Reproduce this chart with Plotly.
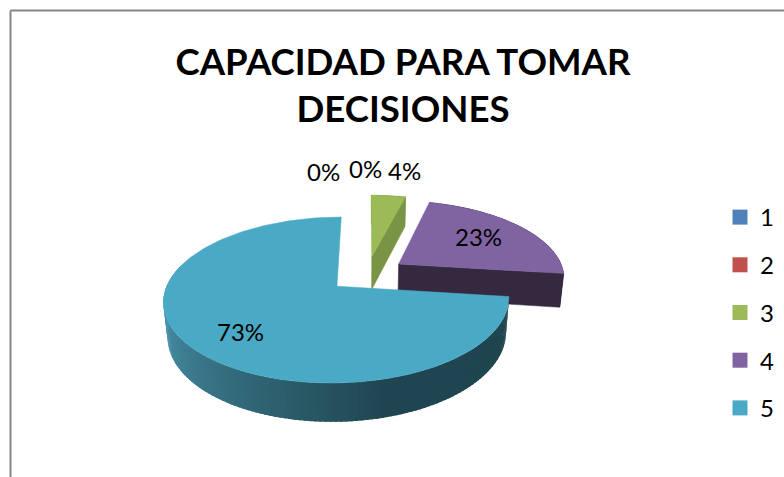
import math
import plotly.graph_objects as go

title_lines = ["CAPACIDAD PARA TOMAR", "DECISIONES"]
categories = ["1", "2", "3", "4", "5"]
percent_values = [0, 0, 4, 23, 73]
top_colors = ["#4F81BD", "#C0504D", "#9BBB59", "#8064A2", "#4AA9C4"]
side_colors = ["#3A5F8C", "#8E3B39", "#7A9445", "#35293F", "#1F4650"]

# projection of the tilted pie onto the pixel-like axes
CX, CY = 367.0, 274.0
BX, AY, HZ = 166.0, 76.7, 34.5
P, Q = 0.162, 0.02
PULL = 0.235


def project(gx, gd, z=0.0):
    f = 1.0 / (1.0 + P * gd + Q * z)
    return CX + BX * gx * f, CY - AY * gd * f + HZ * z * f


def polar(a, off, r=1.0):
    return off[0] + r * math.sin(a), off[1] + r * math.cos(a)


def poly(points, color, width=0.5):
    xs = [p[0] for p in points] + [points[0][0]]
    ys = [p[1] for p in points] + [points[0][1]]
    return go.Scatter(x=xs, y=ys, mode="lines", fill="toself", fillcolor=color,
                      line=dict(color=color, width=width), hoverinfo="skip",
                      showlegend=False)


def mix(c1, c2, t):
    a = [int(c1[i:i + 2], 16) for i in (1, 3, 5)]
    b = [int(c2[i:i + 2], 16) for i in (1, 3, 5)]
    return "#%02x%02x%02x" % tuple(round(x + (y - x) * t) for x, y in zip(a, b))


fig = go.Figure()
total = sum(percent_values)
angle = 0.0
slices = []
for cat, v, ct, cs in zip(categories, percent_values, top_colors, side_colors):
    a0 = angle
    a1 = angle + 2 * math.pi * v / total
    angle = a1
    if v:
        mid = (a0 + a1) / 2
        off = (PULL * math.sin(mid), PULL * math.cos(mid))
        slices.append((cat, a0, a1, off, ct, cs))

for cat, a0, a1, off, ct, cs in slices:
    n = max(6, int(math.degrees(a1 - a0) / 1.5))
    angs = [a0 + (a1 - a0) * i / n for i in range(n + 1)]
    is_main = (a1 - a0) > math.pi
    # outer wall
    for i in range(n):
        u, w = angs[i], angs[i + 1]
        deg = math.degrees((u + w) / 2)
        if is_main and deg > 285:
            continue
        if is_main:
            # lit from the left: light at the left rim, dark towards the right
            t = min(1.0, max(0.0, (262 - deg) / (262 - 165)))
            color = mix("#4A95AE", cs, t)
        else:
            color = cs
        w2 = min(angs[-1], w + math.radians(1.0))
        pu, pw = polar(u, off), polar(w2, off)
        fig.add_trace(poly([project(*pu, 0), project(*pw, 0),
                            project(*pw, 1), project(*pu, 1)], color, width=0))
    # cut face at the end that faces the viewer
    if not is_main:
        rim = polar(a1, off)
        fig.add_trace(poly([project(*off, 0), project(*rim, 0),
                            project(*rim, 1), project(*off, 1)], cs))
    # top face
    arc = [project(*polar(a, off), 0) for a in angs]
    fig.add_trace(poly([project(*off, 0)] + arc, ct))

# legend entries
for cat, col in zip(categories, top_colors):
    fig.add_trace(go.Scatter(x=[None], y=[None], mode="markers", name=cat,
                             legendgroup=cat,
                             marker=dict(symbol="square", size=15, color=col)))

label_x = [323, 365, 404, 478, 240]
label_y = [171, 168, 170, 236, 331]
for v, lx, ly in zip(percent_values, label_x, label_y):
    fig.add_annotation(x=lx, y=ly, text=f"{v}%", showarrow=False,
                       font=dict(family="Lato", size=24, color="#000000"))

fig.update_layout(
    width=784, height=477, margin=dict(l=0, r=0, t=0, b=0),
    paper_bgcolor="white", plot_bgcolor="white",
    title=dict(text="<br>".join(title_lines), x=403 / 784, xanchor="center",
               y=1 - 74.5 / 477, yanchor="top",
               font=dict(family="Lato", size=36.6, color="#000000", weight="bold")),
    xaxis=dict(range=[0, 784], visible=False, fixedrange=True),
    yaxis=dict(range=[477, 0], visible=False, fixedrange=True),
    legend=dict(x=720 / 784, xanchor="left", y=1 - 195 / 477, yanchor="top",
                tracegroupgap=13.5, bgcolor="rgba(0,0,0,0)",
                font=dict(family="Lato", size=24, color="#000000")),
    shapes=[
        dict(type="line", xref="paper", yref="paper", x0=10.5 / 784, x1=1,
             y0=1 - 10.5 / 477, y1=1 - 10.5 / 477, line=dict(color="#868686", width=2)),
        dict(type="line", xref="paper", yref="paper", x0=10.5 / 784, x1=10.5 / 784,
             y0=1 - 10.5 / 477, y1=0, line=dict(color="#868686", width=2)),
    ],
)
fig.write_html("out.html", post_script="document.body.style.margin='0';",
               config={"displayModeBar": False})
